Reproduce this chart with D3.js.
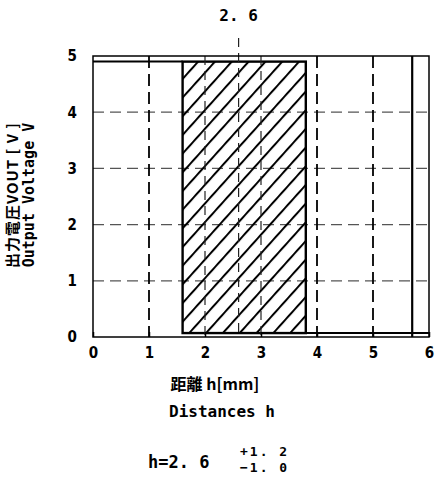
<!DOCTYPE html>
<html>
<head>
<meta charset="utf-8">
<script src="https://cdn.jsdelivr.net/npm/d3@7"></script>
<style>
  body { margin: 0; background: #fff; }
  text { fill: #000; }
</style>
</head>
<body>
<svg id="chart" width="435" height="479"></svg>
<script>
// values
const xTicks = [0, 1, 2, 3, 4, 5, 6];
const yTicks = [0, 1, 2, 3, 4, 5];
const vGridMain = [1, 4, 5];
const vGridInside = [2, 3];
const hGrid = [1, 2, 3, 4];
const centerH = 2.6;
const tolPlus = 1.2;
const tolMinus = 1.0;
const highOut = [[0, 4.9], [centerH - tolMinus, 4.9]];
const lowOut = [[centerH + tolPlus, 0.07], [6, 0.07]];
const edgeLine = 5.7;

let svg = d3.select("#chart");

let x = d3.scaleLinear().domain([0, 6]).range([93, 429]);
let y = d3.scaleLinear().domain([0, 5]).range([337, 56]);

// hatch pattern
let defs = svg.append("defs");
defs.append("pattern")
    .attr("id", "hatch")
    .attr("patternUnits", "userSpaceOnUse")
    .attr("width", 12.5).attr("height", 12.5)
    .attr("patternTransform", "rotate(42)")
    .append("line")
    .attr("x1", 1).attr("y1", 0).attr("x2", 1).attr("y2", 12.5)
    .attr("stroke", "#000").attr("stroke-width", 2);

// grid
svg.append("g").selectAll("line")
    .data(hGrid)
    .enter().append("line")
    .attr("x1", x(0)).attr("x2", x(6))
    .attr("y1", function (d) { return y(d); })
    .attr("y2", function (d) { return y(d); })
    .attr("stroke", "#555").attr("stroke-width", 1.3)
    .attr("stroke-dasharray", "11,6");

svg.append("g").selectAll("line")
    .data(vGridMain)
    .enter().append("line")
    .attr("x1", function (d) { return x(d); })
    .attr("x2", function (d) { return x(d); })
    .attr("y1", y(5)).attr("y2", y(0))
    .attr("stroke", "#000").attr("stroke-width", 1.8)
    .attr("stroke-dasharray", "12,6");

// tolerance band
svg.append("rect")
    .attr("x", x(centerH - tolMinus))
    .attr("y", y(4.9))
    .attr("width", x(centerH + tolPlus) - x(centerH - tolMinus))
    .attr("height", y(0.07) - y(4.9))
    .attr("fill", "url(#hatch)")
    .attr("stroke", "#000").attr("stroke-width", 2.4);

svg.append("g").selectAll("line")
    .data(vGridInside)
    .enter().append("line")
    .attr("x1", function (d) { return x(d); })
    .attr("x2", function (d) { return x(d); })
    .attr("y1", y(5)).attr("y2", y(0))
    .attr("stroke", "#222").attr("stroke-width", 1.2)
    .attr("stroke-dasharray", "9,6");

// centre line, runs above the frame
svg.append("line")
    .attr("x1", x(centerH)).attr("x2", x(centerH))
    .attr("y1", y(5) - 18).attr("y2", y(0))
    .attr("stroke", "#222").attr("stroke-width", 1.2)
    .attr("stroke-dasharray", "9,6");

// frame
svg.append("rect")
    .attr("x", x(0)).attr("y", y(5))
    .attr("width", x(6) - x(0)).attr("height", y(0) - y(5))
    .attr("fill", "none").attr("stroke", "#000").attr("stroke-width", 1.5);

// output level lines
let line = d3.line().x(function (d) { return x(d[0]); }).y(function (d) { return y(d[1]); });
[highOut, lowOut].forEach(function (seg) {
    svg.append("path").attr("d", line(seg))
        .attr("fill", "none").attr("stroke", "#000").attr("stroke-width", 2);
});

svg.append("line")
    .attr("x1", x(edgeLine)).attr("x2", x(edgeLine))
    .attr("y1", y(5)).attr("y2", y(0))
    .attr("stroke", "#000").attr("stroke-width", 2.2);

// axes
let xAxis = svg.append("g")
    .attr("transform", "translate(0," + y(0) + ")")
    .call(d3.axisBottom(x).tickValues(xTicks).tickSize(-5).tickPadding(10).tickFormat(d3.format("d")));
xAxis.select(".domain").remove();
xAxis.selectAll("line").attr("stroke-width", 1.5);

let yAxis = svg.append("g")
    .attr("transform", "translate(" + x(0) + ",0)")
    .call(d3.axisLeft(y).tickValues(yTicks).tickSize(0).tickPadding(16).tickFormat(d3.format("d")));
yAxis.select(".domain").remove();

svg.selectAll(".tick text")
    .attr("font-family", "'DejaVu Sans Condensed', 'DejaVu Sans'")
    .attr("font-weight", "bold")
    .attr("font-size", 15);

// centre value on top
svg.append("text")
    .attr("x", x(centerH)).attr("y", 21)
    .attr("text-anchor", "middle")
    .attr("font-family", "'DejaVu Sans Mono'")
    .attr("font-weight", "bold").attr("font-size", 16)
    .text("2. 6");

// y axis label
let yl = svg.append("g").attr("transform", "translate(2,195) rotate(-90)");
yl.append("text")
    .attr("x", 0).attr("y", 16)
    .attr("text-anchor", "middle")
    .attr("font-family", "'Noto Sans CJK JP'")
    .attr("font-weight", "bold").attr("font-size", 15)
    .attr("letter-spacing", 1)
    .text("出力電圧VOUT [ V ]");
yl.append("text")
    .attr("x", 0).attr("y", 32)
    .attr("text-anchor", "middle")
    .attr("font-family", "'DejaVu Sans Mono'")
    .attr("font-size", 15).attr("font-weight", "bold")
    .text("Output Voltage V");

// x axis label
svg.append("text")
    .attr("x", 215).attr("y", 390)
    .attr("text-anchor", "middle")
    .attr("font-family", "'Noto Sans CJK JP'")
    .attr("font-weight", "bold").attr("font-size", 16)
    .text("距離 h[mm]");
svg.append("text")
    .attr("x", 222).attr("y", 417)
    .attr("text-anchor", "middle")
    .attr("font-family", "'DejaVu Sans Mono'")
    .attr("font-weight", "bold").attr("font-size", 16)
    .text("Distances h");

// tolerance formula
svg.append("text")
    .attr("x", 148).attr("y", 468)
    .attr("font-family", "'DejaVu Sans Mono'")
    .attr("font-weight", "bold").attr("font-size", 17)
    .text("h=2. 6");
svg.append("text")
    .attr("x", 240).attr("y", 456)
    .attr("font-family", "'DejaVu Sans Mono'")
    .attr("font-weight", "bold").attr("font-size", 13)
    .attr("letter-spacing", 2)
    .text("+" + d3.format(".1f")(tolPlus).replace(".", ". "));
svg.append("text")
    .attr("x", 240).attr("y", 472)
    .attr("font-family", "'DejaVu Sans Mono'")
    .attr("font-weight", "bold").attr("font-size", 13)
    .attr("letter-spacing", 2)
    .text("−" + d3.format(".1f")(tolMinus).replace(".", ". "));
</script>
</body>
</html>
